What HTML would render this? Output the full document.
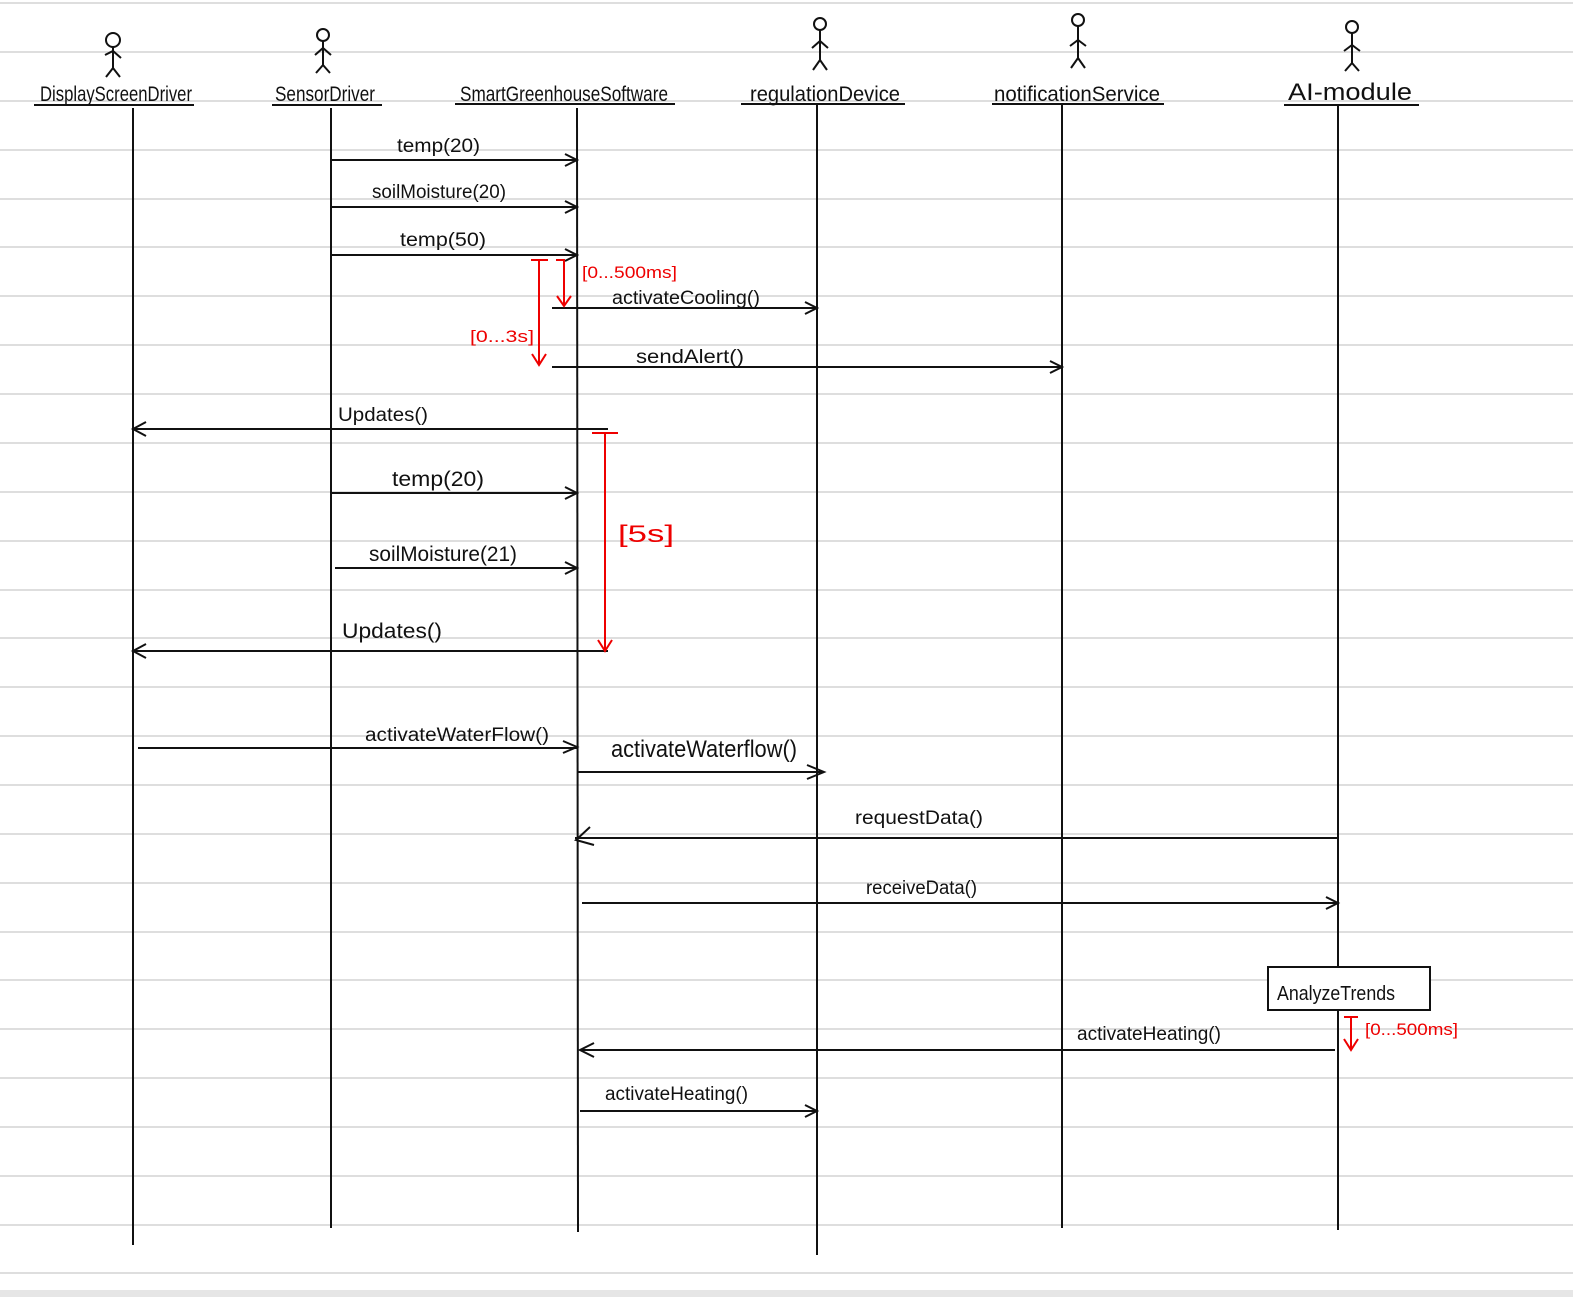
<!DOCTYPE html>
<html><head><meta charset="utf-8"><style>
html,body{margin:0;padding:0;background:#fff;}
svg{display:block;}
text{font-family:"Liberation Sans Narrow","Liberation Sans",sans-serif;fill:#111;}
.r{fill:#e00;}
</style></head><body>
<svg width="1573" height="1302" viewBox="0 0 1573 1302" xmlns="http://www.w3.org/2000/svg">
<rect width="1573" height="1302" fill="#fff"/>
<g stroke="#dedede" stroke-width="2">
<line x1="0" y1="3" x2="1573" y2="3"/><line x1="0" y1="52" x2="1573" y2="52"/><line x1="0" y1="101" x2="1573" y2="101"/><line x1="0" y1="150" x2="1573" y2="150"/><line x1="0" y1="199" x2="1573" y2="199"/><line x1="0" y1="247" x2="1573" y2="247"/><line x1="0" y1="296" x2="1573" y2="296"/><line x1="0" y1="345" x2="1573" y2="345"/><line x1="0" y1="394" x2="1573" y2="394"/><line x1="0" y1="443" x2="1573" y2="443"/><line x1="0" y1="492" x2="1573" y2="492"/><line x1="0" y1="541" x2="1573" y2="541"/><line x1="0" y1="590" x2="1573" y2="590"/><line x1="0" y1="638" x2="1573" y2="638"/><line x1="0" y1="687" x2="1573" y2="687"/><line x1="0" y1="736" x2="1573" y2="736"/><line x1="0" y1="785" x2="1573" y2="785"/><line x1="0" y1="834" x2="1573" y2="834"/><line x1="0" y1="883" x2="1573" y2="883"/><line x1="0" y1="932" x2="1573" y2="932"/><line x1="0" y1="980" x2="1573" y2="980"/><line x1="0" y1="1029" x2="1573" y2="1029"/><line x1="0" y1="1078" x2="1573" y2="1078"/><line x1="0" y1="1127" x2="1573" y2="1127"/><line x1="0" y1="1176" x2="1573" y2="1176"/><line x1="0" y1="1225" x2="1573" y2="1225"/><line x1="0" y1="1273" x2="1573" y2="1273"/>
</g>
<rect x="0" y="1290" width="1573" height="7" fill="#e6e6e6"/>

<!-- actors -->
<g stroke="#111" stroke-width="2" fill="none">
<g transform="translate(113,40)"><circle cx="0" cy="0" r="7"/><path d="M0 7 V28 M-8 15 L0 11 L8 18 M0 28 L-7 37 M0 28 L7 37"/></g>
<g transform="translate(323,35)"><circle cx="0" cy="0" r="6"/><path d="M0 6 V30 M-8 20 L0 13 L8 20 M0 30 L-7 38 M0 30 L7 38"/></g>
<g transform="translate(820,24)"><circle cx="0" cy="0" r="6"/><path d="M0 6 V36 M-8 24 L0 17 L8 24 M0 36 L-7 46 M0 36 L7 46"/></g>
<g transform="translate(1078,20)"><circle cx="0" cy="0" r="6"/><path d="M0 6 V38 M-8 26 L0 20 L8 26 M0 38 L-7 48 M0 38 L7 48"/></g>
<g transform="translate(1352,27)"><circle cx="0" cy="0" r="6"/><path d="M0 6 V36 M-8 24 L0 18 L8 24 M0 36 L-7 44 M0 36 L7 44"/></g>
</g>
<g font-size="21">
<text x="40" y="101" textLength="152" lengthAdjust="spacingAndGlyphs">DisplayScreenDriver</text>
<text x="275" y="101" textLength="100" lengthAdjust="spacingAndGlyphs">SensorDriver</text>
<text x="460" y="101" textLength="208" lengthAdjust="spacingAndGlyphs">SmartGreenhouseSoftware</text>
<text x="750" y="101" textLength="150" lengthAdjust="spacingAndGlyphs">regulationDevice</text>
<text x="994" y="101" textLength="166" lengthAdjust="spacingAndGlyphs">notificationService</text>
<text x="1288" y="100" font-size="24" textLength="124" lengthAdjust="spacingAndGlyphs">AI-module</text>
</g>
<g stroke="#111" stroke-width="2">
<line x1="34" y1="105" x2="194" y2="105"/>
<line x1="272" y1="105" x2="382" y2="105"/>
<line x1="455" y1="104" x2="675" y2="104"/>
<line x1="741" y1="104" x2="905" y2="104"/>
<line x1="992" y1="104" x2="1164" y2="104"/>
<line x1="1284" y1="105" x2="1419" y2="105"/>
<!-- lifelines -->
<line x1="133" y1="108" x2="133" y2="1245"/>
<line x1="331" y1="108" x2="331" y2="1228"/>
<line x1="577" y1="108" x2="578" y2="1232"/>
<line x1="817" y1="105" x2="817" y2="1255"/>
<line x1="1062" y1="105" x2="1062" y2="1228"/>
<line x1="1338" y1="105" x2="1338" y2="1230"/>
</g>

<!-- messages -->
<g stroke="#111" stroke-width="2" fill="none">
<line x1="331" y1="160" x2="577" y2="160"/><path d="M565 154 L577 160 L565 166"/>
<line x1="331" y1="207" x2="577" y2="207"/><path d="M565 201 L577 207 L565 213"/>
<line x1="331" y1="255" x2="577" y2="255"/><path d="M565 249 L577 255 L565 261"/>
<line x1="552" y1="308" x2="817" y2="308"/><path d="M805 302 L817 308 L805 314"/>
<line x1="552" y1="367" x2="1062" y2="367"/><path d="M1050 361 L1062 367 L1050 373"/>
<line x1="133" y1="429" x2="608" y2="429"/><path d="M146 422 L133 429 L146 436"/>
<line x1="331" y1="493" x2="577" y2="493"/><path d="M565 487 L577 493 L565 499"/>
<line x1="335" y1="568" x2="577" y2="568"/><path d="M565 562 L577 568 L565 574"/>
<line x1="133" y1="651" x2="608" y2="651"/><path d="M146 644 L133 651 L146 658"/>
<line x1="138" y1="748" x2="577" y2="748"/><path d="M563 741 L577 747 L563 753"/>
<line x1="577" y1="772" x2="824" y2="772"/><path d="M807 765 L824 772 L807 779"/>
<line x1="575" y1="838" x2="1338" y2="838"/><path d="M590 827 L576 840 L594 845"/>
<line x1="582" y1="903" x2="1338" y2="903"/><path d="M1326 897 L1338 903 L1326 909"/>
<line x1="580" y1="1050" x2="1335" y2="1050"/><path d="M594 1043 L580 1050 L594 1057"/>
<line x1="580" y1="1111" x2="817" y2="1111"/><path d="M805 1105 L817 1111 L805 1117"/>
</g>
<g font-size="19">
<text x="397" y="152" textLength="83" lengthAdjust="spacingAndGlyphs">temp(20)</text>
<text x="372" y="198" textLength="134" lengthAdjust="spacingAndGlyphs">soilMoisture(20)</text>
<text x="400" y="246" textLength="86" lengthAdjust="spacingAndGlyphs">temp(50)</text>
<text x="612" y="304" textLength="148" lengthAdjust="spacingAndGlyphs">activateCooling()</text>
<text x="636" y="363" textLength="108" lengthAdjust="spacingAndGlyphs">sendAlert()</text>
<text x="338" y="421" textLength="90" lengthAdjust="spacingAndGlyphs">Updates()</text>
<text x="392" y="486" font-size="21" textLength="92" lengthAdjust="spacingAndGlyphs">temp(20)</text>
<text x="369" y="561" font-size="21" textLength="148" lengthAdjust="spacingAndGlyphs">soilMoisture(21)</text>
<text x="342" y="638" font-size="21" textLength="100" lengthAdjust="spacingAndGlyphs">Updates()</text>
<text x="365" y="741" textLength="184" lengthAdjust="spacingAndGlyphs">activateWaterFlow()</text>
<text x="611" y="757" font-size="24" textLength="186" lengthAdjust="spacingAndGlyphs">activateWaterflow()</text>
<text x="855" y="824" textLength="128" lengthAdjust="spacingAndGlyphs">requestData()</text>
<text x="866" y="894" textLength="111" lengthAdjust="spacingAndGlyphs">receiveData()</text>
<text x="1077" y="1040" textLength="144" lengthAdjust="spacingAndGlyphs">activateHeating()</text>
<text x="605" y="1100" textLength="143" lengthAdjust="spacingAndGlyphs">activateHeating()</text>
</g>

<!-- analyze trends -->
<rect x="1268" y="967" width="162" height="43" fill="#fff" stroke="#111" stroke-width="2"/>
<text x="1277" y="1000" font-size="20" textLength="118" lengthAdjust="spacingAndGlyphs">AnalyzeTrends</text>

<!-- red constraints -->
<g stroke="#e00" stroke-width="2" fill="none">
<path d="M556 260 H564 V305 M557 296 L564 306 L571 296"/>
<path d="M531 260 H548 M539 260 V364 M532 354 L539 365 L546 354"/>
<path d="M592 433 H618 M605 432 V650 M598 640 L605 651 L612 640"/>
<path d="M1344 1017 H1358 M1351 1017 V1048 M1344 1039 L1351 1050 L1358 1039"/>
</g>
<g font-size="17">
<text class="r" x="582" y="278" textLength="95" lengthAdjust="spacingAndGlyphs">[0...500ms]</text>
<text class="r" x="470" y="342" textLength="64" lengthAdjust="spacingAndGlyphs">[0...3s]</text>
<text class="r" x="618" y="542" font-size="24" textLength="56" lengthAdjust="spacingAndGlyphs">[5s]</text>
<text class="r" x="1365" y="1035" textLength="93" lengthAdjust="spacingAndGlyphs">[0...500ms]</text>
</g>
</svg>
</body></html>
